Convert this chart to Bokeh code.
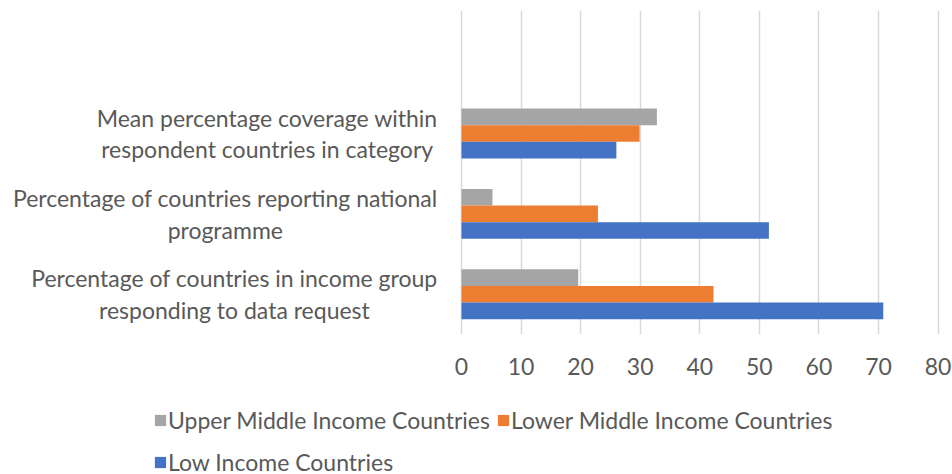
from bokeh.plotting import figure
from bokeh.models import ColumnDataSource, Range1d, FixedTicker, Legend, LegendItem
from bokeh.core.properties import value
from bokeh.layouts import column
from bokeh.transform import dodge
from bokeh.embed import file_html
from bokeh.resources import INLINE

categories = [
    "Percentage of countries in income group\nresponding to data request",
    "Percentage of countries reporting national\nprogramme",
    "Mean percentage coverage within\nrespondent countries in category",
]
upper_middle = [19.6, 5.2, 32.8]
lower_middle = [42.3, 22.9, 29.9]
low_income = [70.8, 51.6, 26.0]
series_names = ["Upper Middle Income Countries", "Lower Middle Income Countries", "Low Income Countries"]
colors = ["#A5A5A5", "#ED7D31", "#4472C4"]
x_ticks = [0, 10, 20, 30, 40, 50, 60, 70, 80]

FONT = "Lato"
TXT = "#595959"

ypos = list(range(len(categories)))
src = ColumnDataSource(dict(y=ypos, upper=upper_middle, lower=lower_middle, low=low_income))
lab_src = ColumnDataSource(dict(y=ypos, text=categories, x=[-4.0] * len(ypos)))

p = figure(output_backend="svg", toolbar_location=None,
           frame_width=952, frame_height=324,
           min_border_left=0, min_border_right=0, min_border_top=10, min_border_bottom=56,
           x_range=Range1d(-77.38, 82.42), y_range=Range1d(-0.5, 3.53))
p.outline_line_color = None

bh = 0.207
p.hbar(y=dodge("y", bh, range=p.y_range), left=0, right="upper", height=bh, source=src,
       fill_color=colors[0], line_color=None)
p.hbar(y=dodge("y", 0, range=p.y_range), left=0, right="lower", height=bh, source=src,
       fill_color=colors[1], line_color=None)
p.hbar(y=dodge("y", -bh, range=p.y_range), left=0, right="low", height=bh, source=src,
       fill_color=colors[2], line_color=None)

p.text(x="x", y="y", text="text", source=lab_src, anchor=value("center_right"),
       text_align="center", text_baseline="middle", text_font=value(FONT),
       text_font_size="23px", text_color=TXT, text_line_height=1.13)

p.xaxis.ticker = FixedTicker(ticks=x_ticks)
p.xaxis.axis_line_color = None
p.xaxis.major_tick_line_color = None
p.xaxis.minor_tick_line_color = None
p.xaxis.major_label_standoff = 17
p.xaxis.major_label_text_font = FONT
p.xaxis.major_label_text_font_size = "23px"
p.xaxis.major_label_text_color = TXT

p.yaxis.visible = False

p.xgrid.ticker = FixedTicker(ticks=x_ticks)
p.xgrid.grid_line_color = "#D9D9D9"
p.xgrid.grid_line_width = 1.5
p.ygrid.grid_line_color = None

# legend strip below the chart (zero-width swatch renderers, only used by the legend)
pl = figure(output_backend="svg", toolbar_location=None,
            frame_width=952, frame_height=84,
            min_border_left=0, min_border_right=0, min_border_top=0, min_border_bottom=0,
            x_range=Range1d(0, 952), y_range=Range1d(0, 84))
pl.outline_line_color = None
pl.axis.visible = False
pl.grid.visible = False
legend_renderers = [pl.hbar(y=[0], left=[0], right=[0], height=0, fill_color=c, line_color=None)
                    for c in colors]

def mk_legend(items, loc):
    lg = Legend(items=items, location=loc, orientation="horizontal",
                border_line_color=None, background_fill_alpha=0,
                margin=0, padding=0, spacing=6,
                glyph_width=14, glyph_height=14, label_standoff=1,
                label_text_font=FONT, label_text_font_size="23px", label_text_color=TXT)
    pl.add_layout(lg, "center")
    return lg

mk_legend([LegendItem(label=series_names[0], renderers=[legend_renderers[0]]),
           LegendItem(label=series_names[1], renderers=[legend_renderers[1]])], (153, 40))
mk_legend([LegendItem(label=series_names[2], renderers=[legend_renderers[2]])], (153, -2))

layout = column(p, pl, spacing=0)
open("out.html", "w").write(file_html(layout, INLINE))
